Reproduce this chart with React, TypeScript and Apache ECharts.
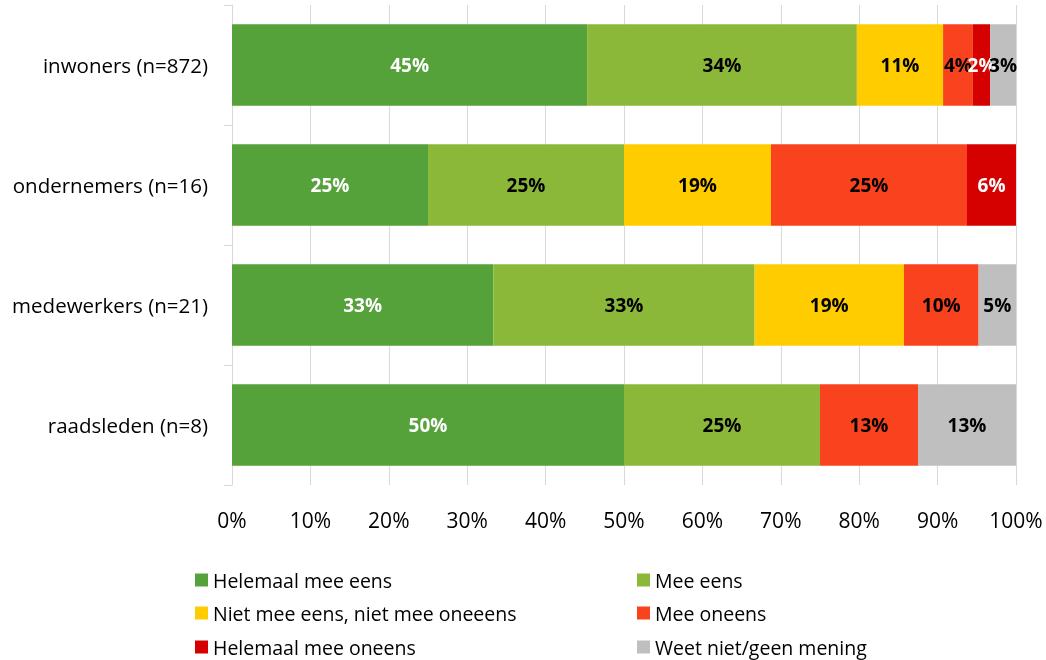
import React, { useEffect, useRef } from "react";
import * as echarts from "echarts";

const categories = ["inwoners (n=872)", "ondernemers (n=16)", "medewerkers (n=21)", "raadsleden (n=8)"];
const seriesNames = [
  "Helemaal mee eens",
  "Mee eens",
  "Niet mee eens, niet mee oneeens",
  "Mee oneens",
  "Helemaal mee oneens",
  "Weet niet/geen mening",
];
const helemaalMeeEens = [45.3, 25, 33.33, 50];
const meeEens = [34.4, 25, 33.33, 25];
const neutraal = [11.0, 18.75, 19.05, 0];
const meeOneens = [3.8, 25, 9.52, 12.5];
const helemaalMeeOneens = [2.2, 6.25, 0, 0];
const weetNiet = [3.3, 0, 4.77, 12.5];
const xTicks = [0, 10, 20, 30, 40, 50, 60, 70, 80, 90, 100];

const seriesData = [helemaalMeeEens, meeEens, neutraal, meeOneens, helemaalMeeOneens, weetNiet];
const colors = ["#55A13A", "#8CB83A", "#FFCC00", "#F9421E", "#D50000", "#BFBFBF"];
const labelColors = ["#FFFFFF", "#000000", "#000000", "#000000", "#FFFFFF", "#000000"];

const FONT = "'Open Sans', 'Noto Sans', sans-serif";

export default function App() {
  const ref = useRef<HTMLDivElement>(null);
  useEffect(() => {
    if (!ref.current) return;
    const chart = echarts.init(ref.current, null, { renderer: "svg" });
    const legendPos = [
      { left: 195, top: 570 },
      { left: 637, top: 570 },
      { left: 195, top: 603 },
      { left: 637, top: 603 },
      { left: 195, top: 637 },
      { left: 637, top: 637 },
    ];
    chart.setOption({
      animation: false,
      textStyle: { fontFamily: FONT },
      grid: { left: 232, right: 30, top: 5, height: 480 },
      xAxis: {
        type: "value",
        min: 0,
        max: 100,
        interval: 10,
        axisLine: { show: false },
        axisTick: { show: false },
        splitLine: { show: true, lineStyle: { color: "#D9D9D9", width: 1 } },
        axisLabel: {
          color: "#000",
          fontSize: 21,
          fontFamily: FONT,
          margin: 24,
          formatter: (v: number) => (xTicks.includes(v) ? v + "%" : ""),
        },
      },
      yAxis: {
        type: "category",
        data: categories,
        inverse: true,
        axisLine: { show: true, lineStyle: { color: "#D9D9D9", width: 1 } },
        axisTick: { show: true, length: 8, lineStyle: { color: "#D9D9D9" } },
        axisLabel: { color: "#000", fontSize: 20.5, fontFamily: FONT, margin: 24 },
      },
      legend: legendPos.map((p, i) => ({
        data: [seriesNames[i]],
        left: p.left,
        top: p.top,
        itemWidth: 13,
        itemHeight: 13,
        icon: "rect",
        itemGap: 6,
        textStyle: { fontSize: 19.5, color: "#000", fontFamily: FONT },
        padding: 0,
      })),
      series: seriesData.map((d, i) => ({
        name: seriesNames[i],
        type: "bar",
        stack: "total",
        barCategoryGap: "32%",
        itemStyle: { color: colors[i] },
        label: {
          show: true,
          position: "inside",
          color: labelColors[i],
          fontWeight: "bold",
          fontSize: 19,
          fontFamily: FONT,
          formatter: (p: any) => (p.value ? Math.round(p.value) + "%" : ""),
        },
        data: d.map((v) => (v === 0 ? null : v)),
      })),
    });
    return () => chart.dispose();
  }, []);
  return <div ref={ref} style={{ position: "fixed", left: 0, top: 0, width: 1046, height: 660 }} />;
}
